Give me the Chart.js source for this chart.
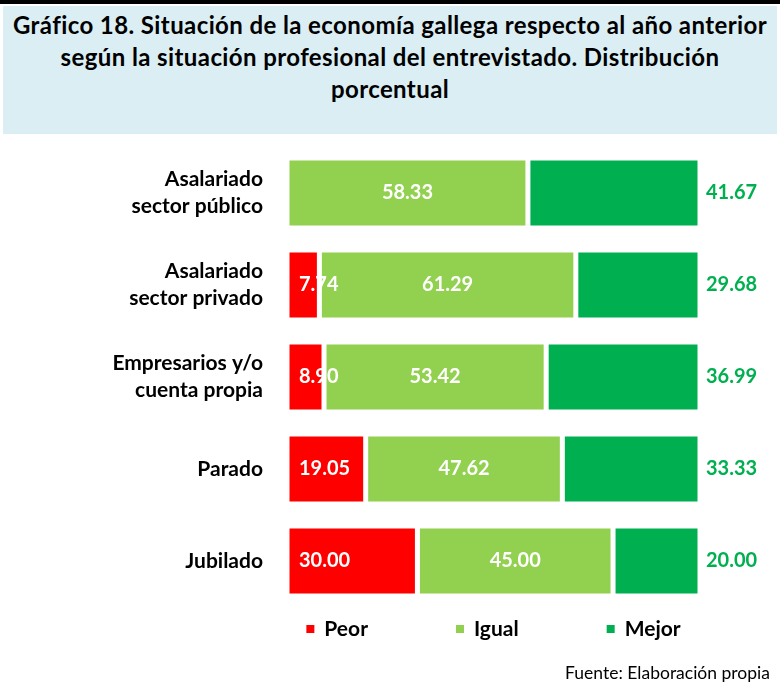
<!DOCTYPE html>
<html>
<head>
<meta charset="utf-8">
<script src="https://cdn.jsdelivr.net/npm/chart.js@4.4.1/dist/chart.umd.min.js"></script>
<style>
  body { margin: 0; width: 780px; height: 682px; overflow: hidden; background: #fff; font-family: Lato, sans-serif; position: relative; }
  #topline { position: absolute; left: 0; top: 0; width: 780px; height: 4px; background: #000; }
  #title { position: absolute; left: 3px; top: 6px; width: 774px; height: 128px; background: #DBEEF4; color: #000;
           font-weight: bold; font-size: 24px; letter-spacing: 0.4px; line-height: 32px; text-align: center; padding-top: 3px; box-sizing: border-box; }
  #wrap { position: absolute; left: 0; top: 135px; width: 780px; height: 547px; }
  #source { position: absolute; right: 10px; top: 662px; font-size: 17.5px; color: #000; }
</style>
</head>
<body>
<div id="topline"></div>
<div id="title">Gráfico 18. Situación de la economía gallega respecto al año anterior<br>según la situación profesional del entrevistado. Distribución<br>porcentual</div>
<div id="wrap"><canvas id="chart"></canvas></div>
<div id="source">Fuente: Elaboración propia</div>

<script>
const categories = [
    ['Asalariado', 'sector público'],
    ['Asalariado', 'sector privado'],
    ['Empresarios y/o', 'cuenta propia'],
    'Parado',
    'Jubilado'
];
const seriesNames = ['Peor', 'Igual', 'Mejor'];
const peor = [0, 7.74, 8.90, 19.05, 30.00];
const igual = [58.33, 61.29, 53.42, 47.62, 45.00];
const mejor = [41.67, 29.68, 36.99, 33.33, 20.00];
const colors = ['#FF0000', '#92D050', '#00B050'];

const raw = [peor, igual, mejor];
// 100% stacked: each row is scaled to its own total
const totals = categories.map((_, j) => peor[j] + igual[j] + mejor[j]);
const pct = raw.map(arr => arr.map((v, j) => v / totals[j] * 100));

const fontFamily = 'Lato, sans-serif';

const valueLabels = {
    id: 'valueLabels',
    afterDatasetsDraw(chart) {
        const ctx = chart.ctx;
        ctx.save();
        ctx.font = 'bold 20px ' + fontFamily;
        ctx.textBaseline = 'middle';
        chart.data.datasets.forEach((ds, i) => {
            chart.getDatasetMeta(i).data.forEach((bar, j) => {
                const v = raw[i][j];
                if (!v) return;
                const txt = v.toFixed(2);
                if (i === 0) {
                    ctx.fillStyle = '#fff';
                    ctx.textAlign = 'left';
                    ctx.fillText(txt, bar.base + 12, bar.y);
                } else if (i === 1) {
                    ctx.fillStyle = '#fff';
                    ctx.textAlign = 'center';
                    ctx.fillText(txt, (bar.x + bar.base) / 2, bar.y);
                } else {
                    ctx.fillStyle = colors[2];
                    ctx.textAlign = 'left';
                    ctx.fillText(txt, chart.chartArea.right + 6, bar.y);
                }
            });
        });
        ctx.restore();
    }
};

const bottomLegend = {
    id: 'bottomLegend',
    afterDraw(chart) {
        const ctx = chart.ctx;
        const area = chart.chartArea;
        ctx.save();
        ctx.font = 'bold 21px ' + fontFamily;
        ctx.textBaseline = 'middle';
        ctx.textAlign = 'left';
        const box = 8, gap = 10, spacing = 88;
        const widths = seriesNames.map(n => box + gap + ctx.measureText(n).width);
        const total = widths.reduce((a, b) => a + b, 0) + spacing * (widths.length - 1);
        let x = (area.left + area.right) / 2 - total / 2;
        const y = area.bottom + 22;
        seriesNames.forEach((n, i) => {
            ctx.fillStyle = colors[i];
            ctx.fillRect(x, y - box / 2, box, box);
            ctx.fillStyle = '#000';
            ctx.fillText(n, x + box + gap, y);
            x += widths[i] + spacing;
        });
        ctx.restore();
    }
};

new Chart(document.getElementById('chart'), {
    type: 'bar',
    data: {
        labels: categories,
        datasets: seriesNames.map((n, i) => ({
            label: n,
            data: pct[i],
            backgroundColor: colors[i],
            borderColor: '#fff',
            borderWidth: 2.5,
            borderSkipped: false,
            barPercentage: 0.8,
            categoryPercentage: 0.95
        }))
    },
    options: {
        indexAxis: 'y',
        responsive: true,
        maintainAspectRatio: false,
        animation: false,
        layout: { padding: { top: 12, right: 80, bottom: 75, left: 0 } },
        scales: {
            x: {
                stacked: true,
                min: 0,
                max: 100,
                display: false
            },
            y: {
                stacked: true,
                grid: { display: false, drawTicks: false },
                border: { display: false },
                ticks: {
                    padding: 24,
                    color: '#000',
                    font: { family: fontFamily, size: 21, weight: 'bold', lineHeight: 1.3 }
                },
                afterFit(scale) {
                    scale.width = 287;
                    // keep the two-line labels from pushing the plot area down
                    scale.paddingTop = 0;
                    scale.paddingBottom = 0;
                }
            }
        },
        plugins: {
            legend: { display: false },
            tooltip: { enabled: false }
        }
    },
    plugins: [valueLabels, bottomLegend]
});
</script>
</body>
</html>
